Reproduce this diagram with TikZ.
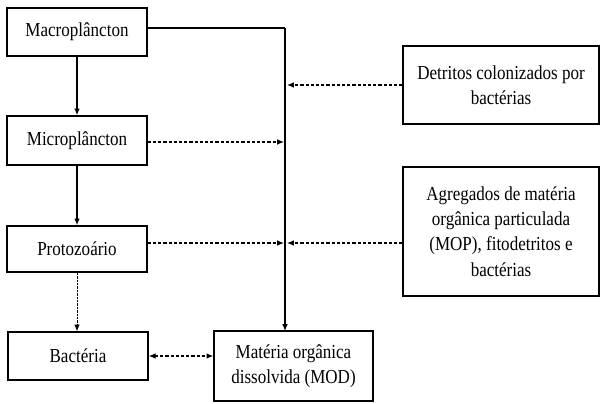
\documentclass[tikz,border=0pt]{standalone}
\usepackage{fontspec}
\setmainfont{Liberation Serif}[FakeStretch=0.86]
\usetikzlibrary{arrows.meta}
\begin{document}
\begin{tikzpicture}[x=0.5pt,y=-0.5pt,
  box/.style={draw, line width=0.7pt, rectangle, inner sep=0pt, align=center, font=\fontsize{9.9pt}{12.6pt}\selectfont},
  solidarrow/.style={line width=0.65pt, -{Latex[length=3.4pt,width=2.8pt]}},
  dasharrow/.style={line width=0.6pt, dash pattern=on 1.6pt off 1pt, -{Latex[length=3.4pt,width=2.8pt]}},
  dotarrow/.style={line width=0.45pt, dash pattern=on 1.2pt off 0.5pt, -{Latex[length=3.4pt,width=2.8pt]}},
  dashboth/.style={line width=0.6pt, dash pattern=on 1.6pt off 1pt, {Latex[length=3.4pt,width=2.8pt]}-{Latex[length=3.4pt,width=2.8pt]}}
]
\useasboundingbox (0,0) rectangle (600,403);
\node[box, minimum width=70pt, minimum height=24pt] (macro) at (77,32) {Macroplâncton};
\node[box, minimum width=70pt, minimum height=24.5pt] (micro) at (77,140.5) {Microplâncton};
\node[box, minimum width=70pt, minimum height=23pt] (proto) at (77,249) {Protozoário};
\node[box, minimum width=70pt, minimum height=24pt] (bact) at (78,356) {Bactéria};
\node[box, minimum width=79.5pt, minimum height=35pt] (mod) at (293.5,366) {Matéria orgânica\\dissolvida (MOD)};
\node[box, minimum width=98pt, minimum height=39pt] (detr) at (501,85) {Detritos colonizados por\\bactérias};
\node[box, minimum width=98pt, minimum height=64.5pt] (agreg) at (501,231.5) {Agregados de matéria\\orgânica particulada\\(MOP), fitodetritos e\\bactérias};

\coordinate (cTop) at (285,28);
\coordinate (cBot) at (285,331);
\coordinate (cMicro) at (284,142);
\coordinate (cProtoL) at (284,243);
\coordinate (cProtoR) at (287,243);
\coordinate (cDetr) at (287,85);

\draw[line width=0.7pt] (macro.east |- cTop) -- (cTop);
\draw[solidarrow] (cTop) -- (cBot);
\draw[solidarrow] (macro.south) -- (micro.north);
\draw[solidarrow] (micro.south) -- (proto.north);
\draw[dotarrow] (proto.south) -- (proto.south |- bact.north);
\draw[dasharrow] (micro.east |- cMicro) -- (cMicro);
\draw[dasharrow] (proto.east |- cProtoL) -- (cProtoL);
\draw[dasharrow] (agreg.west |- cProtoR) -- (cProtoR);
\draw[dasharrow] (detr.west) -- (cDetr);
\draw[dashboth] (bact.east) -- (bact.east -| mod.west);
\end{tikzpicture}
\end{document}
